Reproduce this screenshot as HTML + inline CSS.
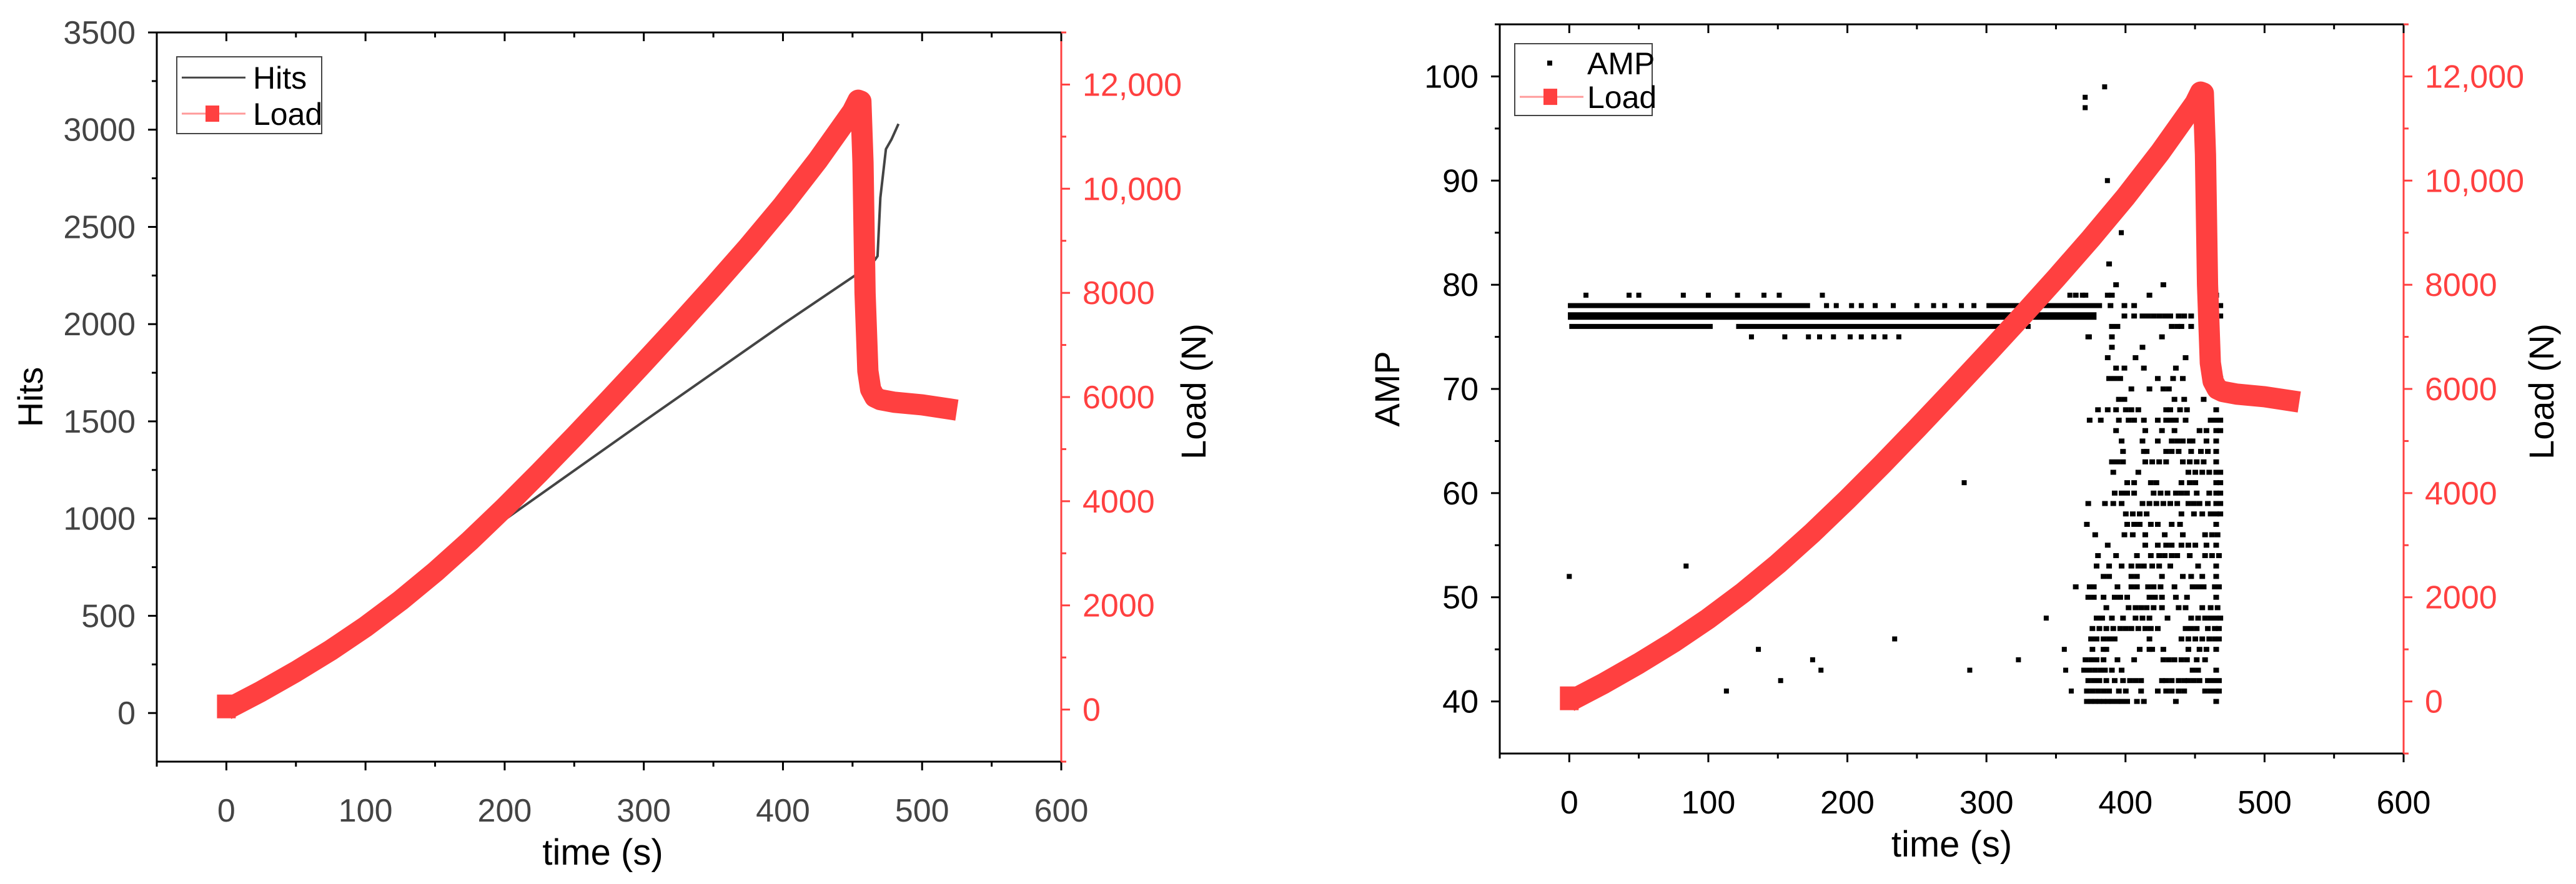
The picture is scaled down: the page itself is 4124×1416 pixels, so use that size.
<!DOCTYPE html>
<html><head><meta charset="utf-8">
<style>
html,body{margin:0;padding:0;background:#fff;}
svg{display:block;}
text{font-family:"Liberation Sans Narrow","Liberation Sans",sans-serif;}
.title{font-family:"Liberation Sans",sans-serif;}
</style></head>
<body>
<svg id="fig" width="4124" height="1416" viewBox="0 0 4124 1416" xmlns="http://www.w3.org/2000/svg"></svg>
<script>
// ---- data ----
const loadT = [0,25,50,75,100,125,150,175,200,225,250,275,300,325,350,375,400,425,450,454,456,457.5,459,461,463,466,470,480,500,525];
const loadV = [0,350,730,1140,1590,2090,2640,3240,3880,4550,5240,5945,6660,7385,8125,8885,9685,10545,11485,11700,11680,10500,8000,6500,6150,6000,5950,5900,5850,5750];
const hitsT = [0,48,100,150,210,300,400,460,466,468,470,474,478,483];
const hitsV = [20,230,490,740,1045,1500,2000,2290,2330,2350,2650,2900,2950,3030];
const xTicks = [0,100,200,300,400,500,600];
const hitsTicks = [0,500,1000,1500,2000,2500,3000,3500];
const ampTicks = [40,50,60,70,80,90,100];
const loadTicks = [0,2000,4000,6000,8000,10000,12000];
const loadTickLabels = ["0","2000","4000","6000","8000","10,000","12,000"];
// AMP dense runs: [amp, tStart, tEnd]
const ampRunAmp = [77,78,78,76,76];
const ampRunStart = [-1,-1,300,0,120];
const ampRunEnd = [376,170,380,100,307];
// AMP cluster rows
const clusterAmp = [82,80,79,78,77,76,75,74,73,72,71,70,69,68,67,66,65,64,63,62,61,60,59,58,57,56,55,54,53,52,51,50,49,48,47,46,45,44,43,42,41,40];
const clusterTimes = [
[388],[393,427],[364,371,387,390,417,465],[363,367,371,375,379,389,399,406,465,468],
[363,367,371,399,406,412,416,420,424,428,432,438,442,447,462,465,468],[390,394,433,437,440,447,465],[373,390,426,465],[390,412],[387,407,443],
[393,399,413,436,465],[388,392,396,423,434,441,465,468],[404,417,427,431],[395,399,435,442,456],
[380,387,393,400,404,409,429,432,439,444,465],[374,382,395,402,406,413,423,429,432,436,443,461,465,468],
[393,414,426,435,453,458,465,468],[397,412,423,433,437,441,446,448,458,465],[398,413,415,429,433,438,447,454,459,465],
[390,394,398,414,419,424,429,441,446,451,456,465],[391,409,445,450,455,460,465,468],[401,406,418,422,440,446,450,465,468],
[392,397,401,406,420,425,430,436,440,444,451,460,465,468],[373,385,391,397,412,417,422,427,432,437,445,449,453,459,465,468],
[400,405,410,415,440,449,455,461,465,468],[372,401,406,410,418,423,433,439,465],[378,399,405,414,428,441,457,462,466],
[387,414,423,429,433,440,445,450,458,465],[380,393,408,418,424,428,433,437,446,457,462,467],[379,388,397,404,409,413,419,424,432,452,465],
[384,388,404,408,426,441,447,455,465],[364,374,377,394,404,408,416,420,425,435,448,452,456,464,467],
[373,377,384,392,396,401,417,421,426,436,444,465],[386,402,407,411,415,420,426,438,443,455,461,466],
[379,383,390,398,407,412,417,430,447,452,457,461,465,468],[376,381,386,391,396,400,404,409,414,418,423,443,447,451,459,464,467],
[375,379,384,388,392,417,440,445,450,455,460,464,467],[376,384,386,410,417,419,427,445,453,458,465],
[371,375,379,384,394,406,427,431,435,440,444,451,457],[370,374,378,382,385,390,397,448,452,465],
[373,377,381,386,392,398,403,407,411,426,429,433,438,442,445,449,453,459,463,467],
[372,376,380,384,388,395,400,411,423,429,433,438,442,457,461,465,467],
[372,375,378,381,384,387,390,394,397,401,408,413,436,465]];
// isolated AMP points
const isoT = [0,84,113,136,152,175,181,234,284,288,323,343,356,357,361,371,371,385,387,397,12,43,50,82,100,121,140,151,182,345,360,369,131,155,172,180,190,202,210,219,227,237,374,330,185,192,203,210,220,233,250,262,270,282,291];
const isoA = [52,53,41,45,42,44,43,46,61,43,44,48,45,43,41,98,97,99,90,85,79,79,79,79,79,79,79,79,79,79,79,79,75,75,75,75,75,75,75,75,75,75,75,76,78,78,78,78,78,78,78,78,78,78,78];

// ---- helpers ----
const NS="http://www.w3.org/2000/svg";
const svg=document.getElementById('fig');
function mk(tag,attrs,parent){const e=document.createElementNS(NS,tag);for(const k in attrs)e.setAttribute(k,attrs[k]);(parent||svg).appendChild(e);return e;}
function lin(d0,d1,r0,r1){return v=>r0+(v-d0)*(r1-r0)/(d1-d0);}

function axes(g,c,xs,yl,yr){
  const f=mk('rect',{x:c.L,y:c.T,width:c.R-c.L,height:c.B-c.T,fill:'none',stroke:'#000','stroke-width':3},g);
  
  
  const ra=mk('line',{x1:c.R,y1:c.T,x2:c.R,y2:c.B,stroke:'#ff4040','stroke-width':3},g);
  
  
  for(let t=-50;t<=600;t+=50){
    const X=xs(t),maj=t%100===0;const l=maj?14:8;
    mk('line',{x1:X,y1:c.B,x2:X,y2:c.B+l,stroke:'#000','stroke-width':3},g);
    mk('line',{x1:X,y1:c.T,x2:X,y2:c.T+l,stroke:'#000','stroke-width':3},g);
  }
  xTicks.forEach(t=>{
    const tx=mk('text',{x:xs(t),y:c.B+96,'text-anchor':'middle','font-size':52,fill:c.xcol},g);
    tx.textContent=t;
    
    
  });
  for(let v=c.yMin+c.minor- ((c.yMin%c.minor)+c.minor)%c.minor; v<=c.yMax; v+=c.minor){
    if(v<c.yMin) continue;
    const Y=yl(v),maj=((v%c.major)+c.major)%c.major===0;const l=maj?14:8;
    mk('line',{x1:c.L,y1:Y,x2:c.L-l,y2:Y,stroke:'#000','stroke-width':3},g);
  }
  c.lTicks.forEach(v=>{
    const tx=mk('text',{x:c.L-34,y:yl(v)+18,'text-anchor':'end','font-size':52,fill:c.xcol},g);
    tx.textContent=v;
    
    
  });
  for(let v=-1000;v<=13000;v+=1000){
    const Y=yr(v),maj=v%2000===0;const l=maj?14:8;
    mk('line',{x1:c.R,y1:Y,x2:c.R+l,y2:Y,stroke:'#ff4040','stroke-width':3},g);
  }
  loadTicks.forEach((v,i)=>{
    const tx=mk('text',{x:c.R+34,y:yr(v)+18,'text-anchor':'start','font-size':52,fill:'#ff4040'},g);
    tx.textContent=loadTickLabels[i];
    
    
  });
  const xt=mk('text',{x:(c.L+c.R)/2+c.xtOff,y:c.B+165,'text-anchor':'middle','font-size':58,fill:'#000'},g);
  xt.textContent='time (s)';
  
  
  const yt=mk('text',{x:0,y:0,'text-anchor':'middle','font-size':56,fill:'#000',class:'title',transform:`translate(${c.ytX},${c.ytY}) rotate(-90)`},g);
  yt.textContent=c.ytitle;
  
  
  const rt=mk('text',{x:0,y:0,'text-anchor':'middle','font-size':56,fill:'#000',class:'title',transform:`translate(${c.rtX},${c.rtY}) rotate(-90)`},g);
  rt.textContent='Load (N)';
  
  
}
function loadLine(g,xs,yr){
  const d=loadT.map((t,i)=>(i?'L':'M')+xs(t).toFixed(1)+','+yr(loadV[i]).toFixed(1)).join(' ');
  const p=mk('path',{d:d,fill:'none',stroke:'#ff4040','stroke-width':34,'stroke-linejoin':'round','stroke-linecap':'butt'},g);
  
  
}
function legend(g,x,y,w,h,first,firstIsLine,gap){
  const b=mk('rect',{x:x,y:y,width:w,height:h,fill:'#fff',stroke:'#444','stroke-width':2},g);
  
  
  const y1=y+h*0.27,y2=y+h*0.74;
  if(firstIsLine){mk('line',{x1:x+8,y1:y1,x2:x+110,y2:y1,stroke:'#444','stroke-width':3},g);}
  else{mk('rect',{x:x+52,y:y1-4,width:8,height:8,fill:'#000'},g);}
  const t1=mk('text',{x:x+gap,y:y1+18,'font-size':50,fill:'#000'},g);t1.textContent=first;
  
  
  mk('line',{x1:x+8,y1:y2,x2:x+110,y2:y2,stroke:'#ff9a9a','stroke-width':3},g);
  mk('rect',{x:x+46,y:y2-13,width:22,height:26,fill:'#ff4040'},g);
  const t2=mk('text',{x:x+gap,y:y2+18,'font-size':50,fill:'#000'},g);t2.textContent='Load';
  
  
}

// ---- chart 1 ----
{
  const c={L:251,R:1699,T:52,B:1220,yMin:-250,yMax:3500,minor:250,major:500,lTicks:hitsTicks,xcol:'#444',
    ytitle:'Hits',ytX:68,ytY:636,rtX:1930,rtY:627,xtOff:-10};
  const g=mk('g',{});
  
  
  const xs=lin(-50,600,c.L,c.R), yl=lin(-250,3500,c.B,c.T), yr=lin(-1000,13000,c.B,c.T);
  axes(g,c,xs,yl,yr);
  const d=hitsT.map((t,i)=>(i?'L':'M')+xs(t).toFixed(1)+','+yl(hitsV[i]).toFixed(1)).join(' ');
  const hp=mk('path',{d:d,fill:'none',stroke:'#444','stroke-width':4},g);
  
  
  loadLine(g,xs,yr);
  mk('rect',{x:xs(0)-15,y:yr(0)-24,width:30,height:38,fill:'#ff4040'},g);
  legend(g,283,91,232,123,'Hits',true,122);
}
// ---- chart 2 ----
{
  const c={L:2401,R:3848,T:39,B:1207,yMin:35,yMax:105,minor:5,major:10,lTicks:ampTicks,xcol:'#000',
    ytitle:'AMP',ytX:2240,ytY:623,rtX:4088,rtY:627,xtOff:0};
  const g=mk('g',{});
  
  
  const xs=lin(-50,600,c.L,c.R), yl=lin(35,105,c.B,c.T), yr=lin(-1000,13000,c.B,c.T);
  axes(g,c,xs,yl,yr);
  const pts=mk('g',{fill:'#000'},g);
  
  
  ampRunAmp.forEach((a,i)=>{
    const x0=xs(ampRunStart[i]),x1=xs(ampRunEnd[i]);
    const r=mk('rect',{x:x0,y:yl(a)-(a===77?6:4),width:x1-x0+7,height:a===77?12:8},pts);
    
    
  });
  clusterAmp.forEach((a,i)=>{
    clusterTimes[i].forEach(t=>{
      const r=mk('rect',{x:xs(t)-4,y:yl(a)-4,width:9,height:8},pts);
      
      
    });
  });
  isoT.forEach((t,i)=>{
    const r=mk('rect',{x:xs(t)-4,y:yl(isoA[i])-4,width:8,height:8},pts);
    
    
  });
  loadLine(g,xs,yr);
  mk('rect',{x:xs(0)-15,y:yr(0)-24,width:30,height:38,fill:'#ff4040'},g);
  legend(g,2425,70,220,115,'AMP',false,116);
}
</script>
</body></html>
